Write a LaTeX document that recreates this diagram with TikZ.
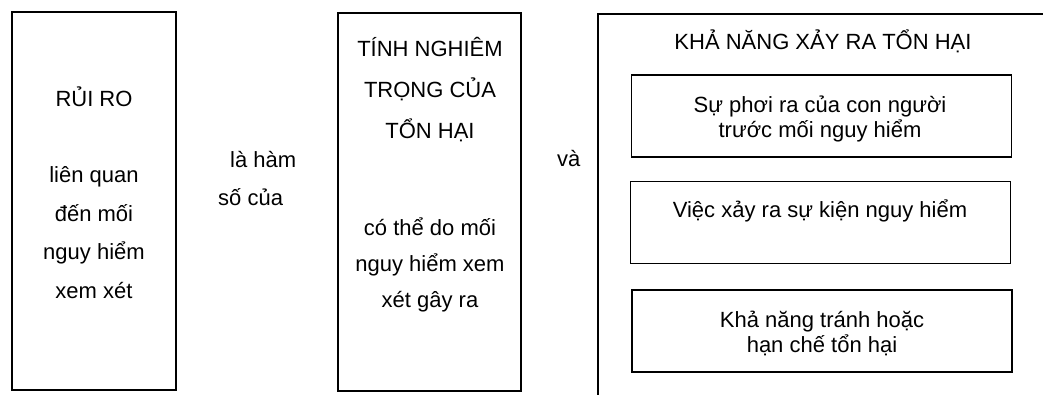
\documentclass[tikz,border=0pt]{standalone}
\usepackage{fontspec}
\setmainfont{Liberation Sans}
\usetikzlibrary{positioning}
\tikzset{
    bigbox/.style={
        rectangle,
        draw=black,
        line width=1.4pt,
        inner sep=0pt
    },
    subbox/.style={
        rectangle,
        draw=black,
        line width=1.3pt,
        minimum width=380pt,
        minimum height=82pt,
        inner sep=0pt
    },
    txt/.style={
        align=center,
        inner sep=0pt,
        anchor=base,
        font=\fontsize{22}{38}\selectfont
    }
}

\begin{document}
\begin{tikzpicture}[x=1pt,y=-1pt]

\useasboundingbox (0,0) rectangle (1043,394);
\clip (0,0) rectangle (1043,394);

% Left column: risk
\node[bigbox, minimum width=164pt, minimum height=378pt] (risk) at (94,201) {};
\node[txt] (risktitle) at (94,106) {RỦI RO};
\node[txt, font=\fontsize{22}{38.5}\selectfont] (riskbody) at (94,298)
    {liên quan\\ đến mối\\ nguy hiểm\\ xem xét};

\node[txt, anchor=base west] (func1) at (230,167) {là hàm};
\node[txt, anchor=base west] (func2) at (218,205) {số của};

% Middle column: severity
\node[bigbox, minimum width=183pt, minimum height=378pt] (sev) at (429.5,202) {};
\node[txt, font=\fontsize{22}{41}\selectfont] (sevtitle) at (430,138)
    {TÍNH NGHIÊM\\ TRỌNG CỦA\\ TỔN HẠI};
\node[txt, font=\fontsize{22}{36}\selectfont] (sevbody) at (430,307)
    {có thể do mối\\ nguy hiểm xem\\ xét gây ra};

\node[txt, anchor=base west] (and) at (557,166) {và};

% Right column: probability
\node[bigbox, minimum width=462pt, minimum height=396pt] (prob) at (829,212) {};
\node[txt] (probtitle) at (823,49) {KHẢ NĂNG XẢY RA TỔN HẠI};

\node[subbox] (expo) at (821.5,116) {};
\node[txt, font=\fontsize{22}{25}\selectfont] (expotxt) at (820,137)
    {Sự phơi ra của con người\\ trước mối nguy hiểm};

\node[subbox] (event) at (820.5,222.5) {};
\node[txt] (eventtxt) at (820,217) {Việc xảy ra sự kiện nguy hiểm};

\node[subbox] (avoid) at (822,331) {};
\node[txt, font=\fontsize{22}{25}\selectfont] (avoidtxt) at (822,352)
    {Khả năng tránh hoặc\\ hạn chế tổn hại};

\end{tikzpicture}
\end{document}
